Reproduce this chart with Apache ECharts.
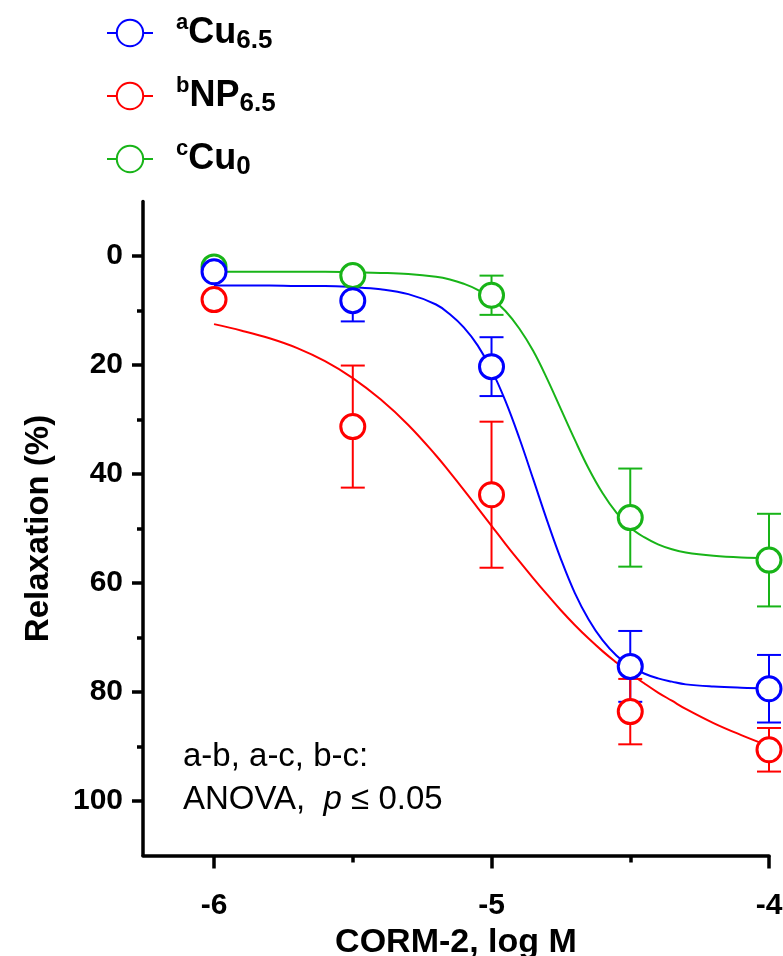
<!DOCTYPE html>
<html>
<head>
<meta charset="utf-8">
<title>CORM-2 relaxation</title>
<script src="https://cdn.jsdelivr.net/npm/echarts@6/dist/echarts.min.js"></script>
<style>
    html, body { margin: 0; padding: 0; background: #fff; }
    #chart { width: 783px; height: 956px; }
</style>
</head>
<body>
<div id="chart"></div>
<script>
// groups (legend order)
var seriesNames = ['Cu6.5', 'NP6.5', 'Cu0'];
var seriesSup = ['a', 'b', 'c'];
var seriesBase = ['Cu', 'NP', 'Cu'];
var seriesSub = ['6.5', '6.5', '0'];

// concentrations, log M
var logDose = [-6, -5.5, -5, -4.5, -4];

// relaxation (%), mean and SEM
var cu65Mean = [2.9, 8.2, 20.3, 75.3, 79.4];
var cu65Sem = [0.8, 3.8, 5.4, 6.5, 6.2];
var np65Mean = [8.0, 31.3, 43.8, 83.6, 90.6];
var np65Sem = [0.8, 11.2, 13.4, 6.0, 4.0];
var cu0Mean = [2.0, 3.6, 7.2, 48.0, 55.8];
var cu0Sem = [0.5, 0.8, 3.6, 9.0, 8.5];

// fitted curves
var curveX = [-6, -5.9, -5.8, -5.7, -5.6, -5.5, -5.4, -5.3, -5.2, -5.15, -5.1, -5.05, -5.0, -4.95, -4.9, -4.85, -4.8, -4.75, -4.7, -4.65, -4.6, -4.55, -4.5, -4.45, -4.4, -4.35, -4.3, -4.2, -4.1, -4.0];
var cu65Curve = [5.4, 5.4, 5.4, 5.5, 5.5, 5.7, 6.1, 7.0, 8.9, 10.7, 13.1, 16.4, 20.9, 26.6, 33.4, 40.9, 48.5, 55.6, 61.8, 66.7, 70.5, 73.3, 75.2, 76.6, 77.5, 78.1, 78.6, 79.0, 79.2, 79.3];
var np65Curve = [12.5, 13.7, 15.1, 16.9, 19.3, 22.4, 26.3, 31.0, 36.6, 39.7, 42.9, 46.2, 49.5, 52.8, 56.0, 59.1, 62.1, 65.0, 67.7, 70.2, 72.5, 74.6, 76.6, 78.4, 80.1, 81.6, 83.1, 85.7, 87.9, 89.9];
var cu0Curve = [2.9, 2.9, 2.9, 2.9, 2.9, 3.0, 3.1, 3.3, 3.8, 4.3, 5.1, 6.2, 7.8, 10.1, 13.3, 17.4, 22.5, 28.1, 33.7, 39.0, 43.5, 47.1, 49.8, 51.6, 52.9, 53.8, 54.4, 55.0, 55.3, 55.4];

// axis ticks
var xMajorTicks = [-6, -5, -4];
var xMinorTicks = [-5.5, -4.5];
var yMajorTicks = [0, 20, 40, 60, 80, 100];
var yMinorTicks = [10, 30, 50, 70, 90];

(function () {
    "use strict";
    var FONT = '"Liberation Sans", Arial, Helvetica, sans-serif';
    var colors = ['#0000ff', '#ff0000', '#18b418'];
    var means = [cu65Mean, np65Mean, cu0Mean];
    var sems = [cu65Sem, np65Sem, cu0Sem];
    var curves = [cu65Curve, np65Curve, cu0Curve];

    function pairs(xs, ys) {
        return xs.map(function (x, i) {
            return [x, ys[i]];
        });
    }

    function errorBarItem(color) {
        return function (params, api) {
            var x = api.value(0), m = api.value(1), s = api.value(2);
            var top = api.coord([x, m - s]);
            var bot = api.coord([x, m + s]);
            var half = 12;
            var st = { stroke: color, lineWidth: 2 };
            return {
                type: 'group',
                children: [
                    { type: 'line', shape: { x1: top[0], y1: top[1], x2: bot[0], y2: bot[1] }, style: st },
                    { type: 'line', shape: { x1: top[0] - half, y1: top[1], x2: top[0] + half, y2: top[1] }, style: st },
                    { type: 'line', shape: { x1: bot[0] - half, y1: bot[1], x2: bot[0] + half, y2: bot[1] }, style: st }
                ]
            };
        };
    }

    function getSeries() {
        var all = [];
        for (var i = 0; i < seriesNames.length; i++) {
            all.push({
                name: seriesNames[i],
                type: 'line',
                smooth: 0.4,
                symbol: 'circle',
                showSymbol: false,
                silent: true,
                z: 2,
                lineStyle: { color: colors[i], width: 2 },
                itemStyle: { color: colors[i], borderColor: colors[i], borderWidth: 3 },
                data: pairs(curveX, curves[i])
            });
            all.push({
                name: seriesNames[i] + ' sem',
                type: 'custom',
                silent: true,
                z: 3,
                renderItem: errorBarItem(colors[i]),
                data: logDose.map(function (x, k) {
                    return [x, means[i][k], sems[i][k]];
                })
            });
        }
        // points on top of every error bar
        for (var j = 0; j < seriesNames.length; j++) {
            all.push({
                name: seriesNames[j] + ' pts',
                type: 'scatter',
                symbol: 'circle',
                symbolSize: 24,
                silent: true,
                z: 4 + (j === 0 ? 2 : j === 1 ? 1 : 0),
                itemStyle: { color: '#fff', borderColor: colors[j], borderWidth: 3, opacity: 1 },
                data: pairs(logDose, means[j])
            });
        }
        return all;
    }

    function getLegend() {
        var labels = {};
        seriesNames.forEach(function (n, i) {
            labels[n] = '{sup|' + seriesSup[i] + '}{main|' + seriesBase[i] + '}{sub|' + seriesSub[i] + '}';
        });
        return {
            orient: 'vertical',
            left: 106,
            top: 12,
            padding: 0,
            itemGap: 21,
            itemWidth: 46,
            itemHeight: 33,
            selectedMode: false,
            data: seriesNames,
            itemStyle: { color: '#fff' },
            formatter: function (name) {
                return labels[name];
            },
            textStyle: {
                color: '#000',
                fontFamily: FONT,
                rich: {
                    sup: { fontSize: 22, fontWeight: 'bold', fontFamily: FONT, color: '#000', lineHeight: 22, verticalAlign: 'top', padding: [0, 0, 0, 18] },
                    main: { fontSize: 36, fontWeight: 'bold', fontFamily: FONT, color: '#000', lineHeight: 42 },
                    sub: { fontSize: 26, fontWeight: 'bold', fontFamily: FONT, color: '#000', lineHeight: 26, verticalAlign: 'bottom' }
                }
            }
        };
    }

    function getXAxis() {
        var common = { type: 'value', min: -6.256, max: -4, splitLine: { show: false } };
        return [
            Object.assign({}, common, {
                position: 'bottom',
                name: 'CORM-2, log M',
                nameLocation: 'middle',
                nameGap: 67,
                nameTextStyle: { fontSize: 34, fontWeight: 'bold', color: '#000', fontFamily: FONT },
                axisLine: { show: true, onZero: false, lineStyle: { color: '#000', width: 3.5 } },
                axisTick: { show: true, length: 13, customValues: xMajorTicks, lineStyle: { color: '#000', width: 3.5 } },
                axisLabel: {
                    show: true, customValues: xMajorTicks, margin: 35,
                    fontSize: 30, fontWeight: 'bold', color: '#000', fontFamily: FONT,
                    formatter: function (v) { return String(v); }
                }
            }),
            Object.assign({}, common, {
                position: 'bottom',
                axisLine: { show: false, onZero: false },
                axisTick: { show: true, length: 7, customValues: xMinorTicks, lineStyle: { color: '#000', width: 3.5 } },
                axisLabel: { show: false }
            })
        ];
    }

    function getYAxis() {
        var common = { type: 'value', inverse: true, min: -10, max: 110, splitLine: { show: false } };
        return [
            Object.assign({}, common, {
                position: 'left',
                name: 'Relaxation (%)',
                nameLocation: 'middle',
                nameRotate: 90,
                nameGap: 88,
                nameTextStyle: { fontSize: 33, fontWeight: 'bold', color: '#000', fontFamily: FONT },
                axisLine: { show: true, onZero: false, lineStyle: { color: '#000', width: 3.5 } },
                axisTick: { show: true, length: 11, customValues: yMajorTicks, lineStyle: { color: '#000', width: 3.5 } },
                axisLabel: {
                    show: true, customValues: yMajorTicks, margin: 20,
                    fontSize: 30, fontWeight: 'bold', color: '#000', fontFamily: FONT
                }
            }),
            Object.assign({}, common, {
                position: 'left',
                axisLine: { show: false, onZero: false },
                axisTick: { show: true, length: 6, customValues: yMinorTicks, lineStyle: { color: '#000', width: 3.5 } },
                axisLabel: { show: false }
            })
        ];
    }

    function getGraphic() {
        return [{
            type: 'text',
            left: 183,
            top: 735,
            silent: true,
            style: {
                text: 'a-b, a-c, b-c:\nANOVA,  {i|p} \u2264 0.05',
                fontSize: 33,
                fontFamily: FONT,
                fill: '#000',
                lineHeight: 43,
                rich: {
                    i: { fontSize: 33, fontStyle: 'italic', fontFamily: FONT, fill: '#000', lineHeight: 43 }
                }
            }
        }];
    }

    var chart = echarts.init(document.getElementById('chart'), null, { renderer: 'canvas' });
    chart.setOption({
        animation: false,
        backgroundColor: '#fff',
        grid: { left: 143, right: 14, top: 201.5, bottom: 100.5, containLabel: false, outerBoundsMode: 'none' },
        legend: getLegend(),
        xAxis: getXAxis(),
        yAxis: getYAxis(),
        graphic: getGraphic(),
        series: getSeries()
    });
}());
</script>
</body>
</html>
